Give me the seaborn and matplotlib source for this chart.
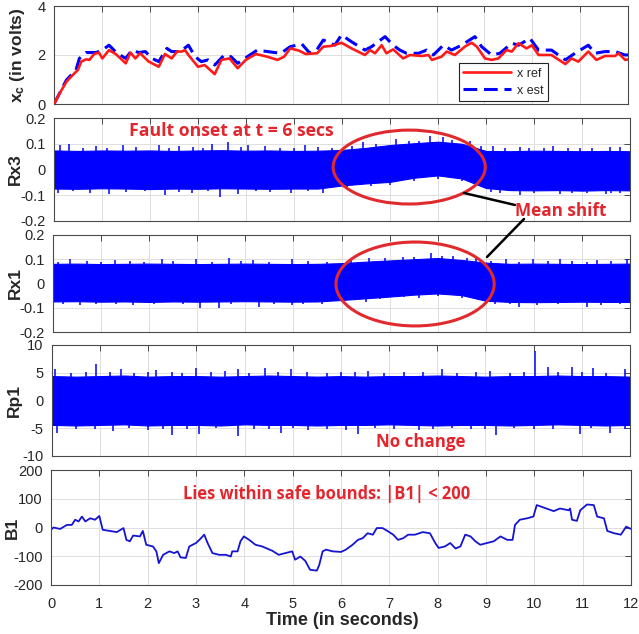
import numpy as np
import pandas as pd
import seaborn as sns
import matplotlib.pyplot as plt
from matplotlib.patches import Ellipse
from matplotlib.lines import Line2D

# ---------------- data ----------------
t_ref = [0, 0.12, 0.26, 0.39, 0.5, 0.57, 0.67, 0.74, 0.84, 0.94, 1.01, 1.15, 1.29, 1.5, 1.6, 1.7, 1.8,
         1.98, 2.19, 2.32, 2.46, 2.57, 2.67, 2.74, 2.81, 3.01, 3.15, 3.36, 3.5, 3.67, 3.84, 4.01, 4.22,
         4.46, 4.67, 4.81, 4.94, 5.12, 5.26, 5.5, 5.63, 5.8, 6.01, 6.22, 6.5, 6.61, 6.71, 6.85, 6.95,
         7.09, 7.3, 7.44, 7.69, 7.83, 7.9, 8.1, 8.21, 8.38, 8.59, 8.73, 8.84, 9.01, 9.15, 9.29, 9.46,
         9.57, 9.71, 9.88, 9.99, 10.13, 10.4, 10.69, 10.82, 10.96, 11.17, 11.34, 11.52, 11.73, 11.8,
         11.94, 12.0]
x_ref = [0, 0.44, 0.91, 1.18, 1.39, 1.73, 1.82, 1.8, 2.04, 2.1, 1.86, 2.2, 2.04, 1.66, 2.1, 1.86, 2.07,
         1.73, 1.52, 2.04, 1.86, 2.14, 2.14, 2.2, 2.0, 1.52, 1.59, 1.22, 1.8, 1.86, 1.46, 1.8, 2.04,
         1.93, 1.8, 1.93, 2.27, 2.18, 2.04, 2.07, 2.34, 2.37, 2.5, 2.27, 2.0, 2.2, 2.07, 2.4, 2.07,
         2.23, 1.86, 2.0, 1.96, 2.0, 1.8, 1.93, 2.14, 2.0, 2.34, 2.5, 2.34, 1.86, 1.8, 1.86, 2.2,
         2.14, 2.48, 2.27, 2.4, 2.0, 2.0, 1.63, 1.86, 1.73, 2.14, 1.8, 1.96, 1.96, 2.07,
         1.8, 1.82]

t_est = [0, 0.26, 0.46, 0.53, 0.67, 0.88, 1.01, 1.15, 1.32, 1.5, 1.63, 1.77, 1.91, 2.05, 2.19, 2.36,
         2.46, 2.64, 2.81, 2.95, 3.08, 3.22, 3.36, 3.56, 3.7, 3.84, 4.04, 4.25, 4.46, 4.74, 4.94, 5.18,
         5.35, 5.49, 5.63, 5.87, 6.01, 6.22, 6.5, 6.64, 6.92, 7.09, 7.23, 7.37, 7.62, 7.79, 7.93, 8.14,
         8.31, 8.52, 8.8, 8.94, 9.15, 9.32, 9.57, 9.71, 9.95, 10.13, 10.4, 10.69, 10.89, 11.17, 11.31,
         11.52, 11.73, 11.94, 12.0]
x_est = [0, 0.98, 1.39, 1.86, 2.1, 2.1, 2.2, 2.4, 2.07, 1.86, 2.2, 2.1, 2.14, 1.86, 1.73, 2.27,
         2.14, 2.14, 2.4, 1.93, 1.73, 1.8, 1.59, 2.0, 1.93, 1.66, 1.93, 2.2, 2.14, 2.07, 2.34, 2.45,
         2.07, 2.2, 2.61, 2.4, 2.82, 2.54, 2.2, 2.34, 2.75, 2.4, 2.2, 2.07, 2.07, 2.2, 2.0, 2.4,
         2.2, 2.4, 2.75, 2.34, 2.0, 2.07, 2.48, 2.4, 2.68, 2.2, 2.2, 1.8, 2.07, 2.4, 2.07,
         2.14, 2.14, 2.0, 2.0]

# envelope of the dense residual signals, every 0.5 s from 0 to 12
env_t = [0, 0.5, 1, 1.5, 2, 2.5, 3, 3.5, 4, 4.5, 5, 5.5, 6, 6.5, 7, 7.5, 8, 8.5, 9, 9.5, 10, 10.5,
         11, 11.5, 12]
rx3_up = [0.074, 0.072, 0.074, 0.073, 0.074, 0.072, 0.074, 0.075, 0.073, 0.074, 0.072, 0.073, 0.076,
          0.084, 0.095, 0.102, 0.108, 0.1, 0.072, 0.071, 0.073, 0.072, 0.071, 0.072, 0.071]
rx3_lo = [-0.074, -0.075, -0.073, -0.074, -0.076, -0.074, -0.075, -0.073, -0.074, -0.075, -0.074,
          -0.074, -0.062, -0.054, -0.048, -0.032, -0.023, -0.035, -0.072, -0.08, -0.081, -0.08,
          -0.082, -0.08, -0.081]
rx3_spk_t = [0.12, 0.32, 0.88, 1.43, 2.19, 2.6, 3.29, 3.63, 4.05, 4.39, 5.22, 6.43, 7.13, 7.83, 8.1,
             8.66, 9.15, 9.7, 10.4, 10.96, 11.58,
             0.6, 1.1, 1.7, 2.4, 2.9, 3.1, 3.9, 4.7, 5.0, 5.5, 5.8, 6.2, 6.7, 7.4, 7.6, 8.3, 8.9,
             9.4, 9.9, 10.2, 10.7, 11.2, 11.8,
             0.08, 0.74, 1.15, 2.32, 2.88, 3.46, 3.84, 4.94, 5.6, 9.7, 10.54, 11.5, 11.79,
             0.4, 1.5, 1.9, 2.6, 3.2, 4.2, 4.5, 5.3, 6.1, 6.6, 7.0, 7.5, 8.0, 8.5, 9.1, 9.3, 10.0,
             10.8, 11.1, 11.6]
rx3_spk_v = [0.095, 0.1, 0.092, 0.094, 0.096, 0.09, 0.1, 0.105, 0.095, 0.092, 0.094, 0.105, 0.118,
             0.13, 0.128, 0.11, 0.09, 0.088, 0.09, 0.085, 0.088,
             0.085, 0.084, 0.088, 0.083, 0.086, 0.084, 0.087, 0.085, 0.083, 0.086, 0.085, 0.092,
             0.098, 0.11, 0.112, 0.114, 0.09, 0.083, 0.085, 0.082, 0.084, 0.083, 0.086,
             -0.092, -0.09, -0.094, -0.098, -0.092, -0.105, -0.095, -0.092, -0.09, -0.1, -0.095,
             -0.095, -0.09,
             -0.085, -0.086, -0.084, -0.087, -0.085, -0.084, -0.088, -0.085, -0.072, -0.066,
             -0.06, -0.045, -0.035, -0.046, -0.088, -0.09, -0.092, -0.09, -0.093, -0.091]

rx1_up = [0.081, 0.082, 0.08, 0.081, 0.082, 0.081, 0.08, 0.081, 0.082, 0.081, 0.08, 0.081, 0.084,
          0.09, 0.095, 0.1, 0.105, 0.097, 0.086, 0.081, 0.082, 0.081, 0.08, 0.081, 0.082]
rx1_lo = [-0.074, -0.073, -0.075, -0.074, -0.076, -0.074, -0.075, -0.074, -0.073, -0.074, -0.075,
          -0.074, -0.068, -0.061, -0.054, -0.046, -0.041, -0.048, -0.071, -0.076, -0.077, -0.076,
          -0.075, -0.076, -0.076]
rx1_spk_t = [0.36, 1.29, 2.26, 2.98, 3.67, 4.15, 4.98, 6.57, 7.27, 7.86, 8.31, 8.8, 9.43, 9.99,
             10.54, 11.31, 11.94,
             0.1, 0.7, 1.0, 1.6, 1.9, 2.5, 3.3, 3.9, 4.5, 5.3, 5.7, 6.2, 6.9, 7.5, 8.1, 8.6, 9.1,
             9.7, 10.3, 10.8, 11.1, 11.6,
             0.57, 1.67, 3.05, 3.46, 4.29, 4.98, 6.5, 7.62, 9.7, 10.06, 11.1,
             0.2, 0.9, 1.3, 2.1, 2.7, 3.7, 4.6, 5.2, 5.6, 6.0, 6.8, 7.3, 8.0, 8.5, 9.2, 9.5, 10.5,
             11.4, 11.8]
rx1_spk_v = [0.1, 0.095, 0.1, 0.1, 0.105, 0.095, 0.1, 0.105, 0.11, 0.125, 0.115, 0.105, 0.1, 0.1,
             0.1, 0.095, 0.1,
             0.09, 0.092, 0.089, 0.091, 0.09, 0.092, 0.09, 0.091, 0.089, 0.092, 0.09, 0.095, 0.104,
             0.11, 0.115, 0.106, 0.093, 0.09, 0.092, 0.091, 0.09, 0.092,
             -0.09, -0.09, -0.1, -0.1, -0.095, -0.09, -0.075, -0.06, -0.095, -0.09, -0.095,
             -0.084, -0.083, -0.085, -0.084, -0.086, -0.083, -0.085, -0.084, -0.083, -0.078,
             -0.064, -0.056, -0.05, -0.058, -0.083, -0.086, -0.085, -0.087, -0.085]

rp1_up = [4.4, 4.3, 4.4, 4.5, 4.3, 4.4, 4.4, 4.3, 4.4, 4.5, 4.4, 4.3, 4.4, 4.3, 4.4, 4.4, 4.5, 4.4,
          4.3, 4.4, 4.4, 4.5, 4.4, 4.4, 4.3]
rp1_lo = [-4.4, -4.5, -4.4, -4.3, -4.5, -4.4, -4.4, -4.5, -4.3, -4.4, -4.4, -4.5, -4.4, -4.4, -4.3,
          -4.4, -4.5, -4.4, -4.4, -4.5, -4.4, -4.3, -4.4, -4.5, -4.4]
rp1_spk_t = [0.07, 0.92, 1.44, 2.16, 2.98, 3.87, 4.42, 4.97, 6.57, 8.1, 10.02, 10.3, 10.79, 11.24,
             11.9,
             0.4, 0.7, 1.2, 1.7, 2.0, 2.5, 2.7, 3.3, 3.6, 4.1, 4.7, 5.3, 5.7, 6.0, 6.3, 6.9, 7.3, 7.7,
             8.4, 8.8, 9.1, 9.5, 9.8, 10.5, 11.0, 11.5,
             0.1, 1.27, 2.5, 3.05, 3.87, 4.76, 5.31, 6.36, 7.62, 9.22, 10.96, 11.59,
             0.5, 0.9, 1.6, 2.0, 2.3, 2.8, 3.4, 4.2, 4.5, 5.0, 5.7, 6.1, 6.7, 7.1, 7.9, 8.3, 8.7, 9.0,
             9.6, 10.0, 10.4, 11.2, 11.9]
rp1_spk_v = [5.7, 6.6, 5.6, 5.5, 5.8, 5.6, 5.8, 5.6, 5.4, 5.6, 8.9, 6.0, 6.0, 5.8, 5.6,
             5.0, 5.2, 5.1, 5.0, 5.2, 5.1, 5.0, 5.2, 5.3, 5.0, 5.1, 5.2, 5.0, 5.1, 5.2, 5.0, 5.1,
             5.2, 5.0, 5.1, 5.3, 5.0, 5.1, 5.2, 5.1, 5.0,
             -5.8, -5.5, -6.3, -6.0, -6.4, -5.8, -5.4, -6.0, -5.4, -6.2, -6.0, -5.8,
             -5.1, -5.2, -5.0, -5.3, -5.1, -5.2, -5.0, -5.1, -5.2, -5.0, -5.1, -5.3, -5.0, -5.2,
             -5.1, -5.0, -5.2, -5.1, -5.0, -5.2, -5.1, -5.0, -5.2]

t_b1 = [0, 0.05, 0.19, 0.33, 0.43, 0.5, 0.57, 0.64, 0.71, 0.81, 0.91, 1.0, 1.07, 1.22, 1.36, 1.5,
        1.56, 1.63, 1.7, 1.84, 1.9, 1.97, 2.11, 2.18, 2.23, 2.32, 2.45, 2.55, 2.62, 2.68, 2.79, 2.86,
        3.0, 3.07, 3.17, 3.24, 3.34, 3.48, 3.62, 3.72, 3.75, 3.86, 3.92, 3.99, 4.1, 4.23, 4.37, 4.58,
        4.71, 4.85, 4.99, 5.05, 5.16, 5.26, 5.36, 5.5, 5.55, 5.62, 5.69, 5.83, 6.0, 6.1, 6.24, 6.35,
        6.45, 6.55, 6.66, 6.74, 6.86, 6.98, 7.08, 7.18, 7.29, 7.39, 7.53, 7.69, 7.84, 7.95, 8.02,
        8.15, 8.26, 8.37, 8.47, 8.57, 8.68, 8.78, 8.88, 9.02, 9.16, 9.3, 9.44, 9.55, 9.6, 9.7, 9.85,
        9.98, 10.05, 10.15, 10.4, 10.53, 10.71, 10.74, 10.78, 10.88, 10.95, 11.09, 11.23, 11.3,
        11.44, 11.51, 11.65, 11.79, 11.9, 12.0]
b1 = [-8, 0, -5, 9, 9, 27, 21, 38, 21, 32, 27, 40, -8, -12, -16, -2,
      -43, -48, -28, -31, -12, -60, -66, -83, -124, -95, -83, -89, -83, -104, -106, -66,
      -54, -43, -25, -54, -89, -95, -95, -101, -83, -83, -48, -31, -43, -60, -66, -81,
      -95, -89, -83, -112, -101, -116, -147, -150, -130, -83, -77, -83, -85, -77, -60, -43,
      -37, -20, -25, -2, -2, -14, -25, -43, -37, -25, -25, -16, -20, -54, -71,
      -66, -54, -73, -66, -25, -31, -48, -60, -54, -48, -31, -43, -43, 9, 27, 32,
      38, 78, 72, 57, 66, 60, 66, 27, 23, 60, 80, 78, 38,
      32, -12, -20, -25, 3, -5]

ylabels = ["x_c (in volts)", "Rx3", "Rx1", "Rp1", "B1"]

# ---------------- style ----------------
sns.set_theme(style="whitegrid")
plt.rcParams['font.family'] = ['Liberation Sans', 'DejaVu Sans']
plt.rcParams['mathtext.fontset'] = 'custom'
plt.rcParams['mathtext.rm'] = 'Liberation Sans'
plt.rcParams['mathtext.bf'] = 'Liberation Sans:bold'
plt.rcParams['mathtext.it'] = 'Liberation Sans:italic'

RED = '#ff1a1a'
BLUE = '#0000ff'
ANN = '#e3262e'
SPINE = '#4a4a4a'

W, H = 639, 634
fig = plt.figure(figsize=(W / 100, H / 100), dpi=100)


def add_ax(l, r, top, bot):
    return fig.add_axes([l / W, 1 - bot / H, (r - l) / W, (bot - top) / H])


axes = [add_ax(54, 628, 6, 104), add_ax(54, 630, 118, 221), add_ax(53, 630, 235, 332),
        add_ax(52, 630, 345, 456), add_ax(51, 631, 470, 585)]

ylims = [(0, 4), (-0.2, 0.2), (-0.2, 0.2), (-10, 10), (-200, 200)]
yticks = [[0, 2, 4], [-0.2, -0.1, 0, 0.1, 0.2], [-0.2, -0.1, 0, 0.1, 0.2], [-10, -5, 0, 5, 10],
          [-200, -100, 0, 100, 200]]
ytl = [["0", "2", "4"], ["-0.2", "-0.1", "0", "0.1", "0.2"], ["-0.2", "-0.1", "0", "0.1", "0.2"],
       ["-10", "-5", "0", "5", "10"], ["-200", "-100", "0", "100", "200"]]

for i, ax in enumerate(axes):
    ax.set_xlim(0, 12)
    ax.set_ylim(*ylims[i])
    ax.set_xticks(range(13))
    ax.set_yticks(yticks[i])
    ax.set_yticklabels(ytl[i])
    ax.grid(True, color='#dedede', lw=0.7)
    ax.set_axisbelow(True)
    for s in ax.spines.values():
        s.set_color(SPINE)
        s.set_linewidth(0.8)
    ax.tick_params(direction='in', top=True, right=True, length=4, width=0.7, color=SPINE,
                   labelsize=10.5, labelcolor='#262626', pad=6)
    ax.tick_params(axis='x', pad=9)
    if i < 4:
        ax.tick_params(labelbottom=False)

# panel 1: reference vs estimate
ax = axes[0]
sns.lineplot(x=t_ref, y=x_ref, ax=ax, color=RED, lw=1.9, label='x ref', zorder=3)
sns.lineplot(x=t_est, y=x_est, ax=ax, color=BLUE, lw=2.2, label='x est', zorder=2)
ax.lines[-1].set_dashes((4.5, 2.2))
h, l = ax.get_legend_handles_labels()
h[1].set_dashes((4.5, 2.2))
leg = ax.legend(h, l, loc='lower right', bbox_to_anchor=(0.861, 0.03),
                borderaxespad=0, frameon=True, fancybox=False, edgecolor='#222222',
                framealpha=1, fontsize=9, handlelength=3.8, borderpad=0.35, labelspacing=0.4,
                handletextpad=0.5)
leg.get_frame().set_linewidth(0.8)
ax.set_xlabel('')

# noise panels
for ax, up, lo, st, sv in [(axes[1], rx3_up, rx3_lo, rx3_spk_t, rx3_spk_v),
                           (axes[2], rx1_up, rx1_lo, rx1_spk_t, rx1_spk_v),
                           (axes[3], rp1_up, rp1_lo, rp1_spk_t, rp1_spk_v)]:
    ax.fill_between(env_t, lo, up, color=BLUE, lw=0.8, zorder=2)
    ax.vlines(st, 0, sv, color=BLUE, lw=1.1, zorder=2)

# bias panel
sns.lineplot(x=t_b1, y=b1, ax=axes[4], color='#1414d2', lw=1.3)
axes[4].set_xlabel('Time (in seconds)', fontsize=13, fontweight='bold', color='#262626')
axes[4].xaxis.set_label_coords(0.502, -0.235)

# y labels
lab_x = [-0.047, -0.054, -0.052, -0.052, -0.053]
for i, ax in enumerate(axes):
    txt = r'$\mathbf{x_c}$ (in volts)' if i == 0 else ylabels[i]
    ax.set_ylabel(txt, fontsize=12.5, fontweight='bold', color='#262626')
    ax.yaxis.set_label_coords(lab_x[i], 0.5)

# ellipses
axes[1].add_patch(Ellipse((7.40, 0.0095), 3.17, 0.287, fill=False, ec='#e02a2e', lw=2.2,
                          zorder=5, clip_on=False))
axes[2].add_patch(Ellipse((7.53, -0.002), 3.29, 0.346, fill=False, ec='#e02a2e', lw=2.2,
                          zorder=5, clip_on=False))

# annotations
def ftxt(x, y, s, size):
    fig.text(x / W, 1 - y / H, s, color=ANN, fontsize=size, fontweight='bold',
             family=['Open Sans', 'DejaVu Sans'], ha='left', va='center')


ftxt(129, 131, 'Fault onset at t = 6 secs', 12.7)
ftxt(515, 211, 'Mean shift', 12.3)
ftxt(376, 442, 'No change', 12.2)
ftxt(183, 494, 'Lies within safe bounds: |B1| < 200', 11.9)

fig.add_artist(Line2D([464 / W, 515 / W], [1 - 193 / H, 1 - 205 / H], color='black', lw=1.8))
fig.add_artist(Line2D([524 / W, 487 / W], [1 - 219 / H, 1 - 257 / H], color='black', lw=1.8))

fig.savefig('out.png', dpi=100)
